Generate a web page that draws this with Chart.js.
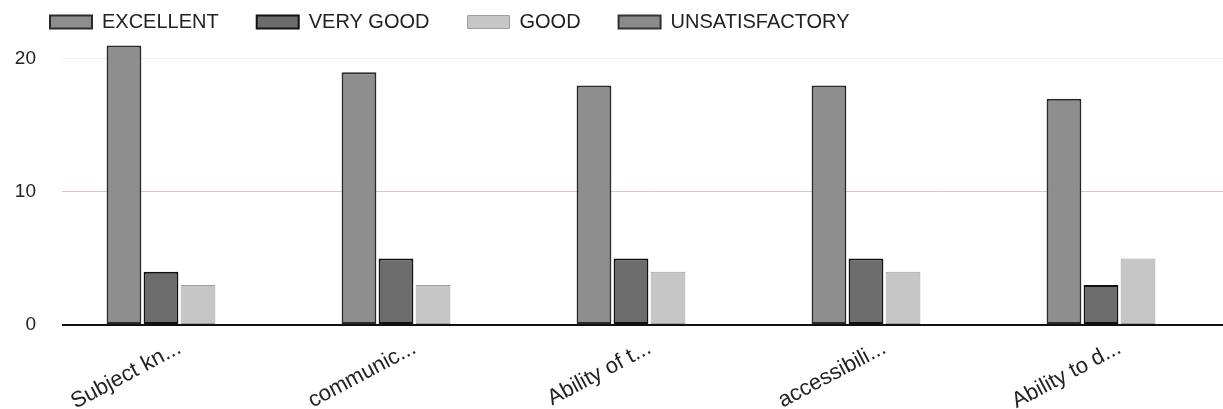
<!DOCTYPE html>
<html><head><meta charset="utf-8">
<script src="https://cdn.jsdelivr.net/npm/chart.js@4/dist/chart.umd.min.js"></script>
<style>html,body{margin:0;padding:0;background:#fff;overflow:hidden;} #wrap{width:1237px;height:409px;position:relative;}</style>
</head><body><div id="wrap"><canvas id="c"></canvas></div>
<script>
const categories = ["Subject kn...", "communic...", "Ability of t...", "accessibili...", "Ability to d..."];
const seriesNames = ["EXCELLENT", "VERY GOOD", "GOOD", "UNSATISFACTORY"];
const excellent = [21, 19, 18, 18, 17];
const veryGood = [4, 5, 5, 5, 3];
const good = [3, 3, 4, 4, 5];
const unsatisfactory = [0, 0, 0, 0, 0];
const yTicks = [0, 10, 20];

const styles = [
  {bg: '#8e8e8e', border: '#2a2a2a', w: 2},
  {bg: '#6c6c6c', border: '#111111', w: 2},
  {bg: '#c6c6c6', border: '#a0a0a0', w: 1},
  {bg: '#8a8a8a', border: '#333333', w: 2}
];
const seriesValues = [excellent, veryGood, good, unsatisfactory];

new Chart(document.getElementById('c'), {
  type: 'bar',
  data: {
    labels: categories,
    datasets: seriesNames.map((name, i) => ({
      label: name,
      data: seriesValues[i],
      backgroundColor: styles[i].bg,
      borderColor: styles[i].border,
      borderWidth: styles[i].w,
      borderSkipped: false,
      categoryPercentage: 0.63,
      barPercentage: 0.94
    }))
  },
  options: {
    responsive: true,
    maintainAspectRatio: false,
    animation: false,
    layout: {padding: {top: -26, left: 12, right: 0, bottom: 0}},
    plugins: {
      tooltip: {enabled: false},
      legend: {
        position: 'top',
        align: 'start',
        labels: {
          boxWidth: 42,
          boxHeight: 13,
          padding: 38,
          color: '#222',
          font: {family: 'Liberation Sans, Arial, sans-serif', size: 20}
        }
      }
    },
    scales: {
      x: {
        grid: {display: false},
        border: {display: false},
        ticks: {
          autoSkip: false,
          minRotation: 28,
          maxRotation: 28,
          padding: 2,
          color: '#222',
          font: {family: 'Liberation Sans, Arial, sans-serif', size: 22}
        },
        afterFit: (s) => { s.height = 84; }
      },
      y: {
        min: 0,
        max: 21.27,
        border: {display: false},
        grid: {
          drawTicks: false,
          color: (ctx) => ctx.tick.value === 0 ? '#111' : (ctx.tick.value === 10 ? 'rgba(190,150,150,0.55)' : 'rgba(0,0,0,0.05)'),
          lineWidth: (ctx) => ctx.tick.value === 0 ? 2 : 1
        },
        ticks: {
          padding: 26,
          color: '#222',
          font: {family: 'Liberation Sans, Arial, sans-serif', size: 19}
        },
        afterBuildTicks: (axis) => { axis.ticks = yTicks.map(v => ({value: v})); },
        afterFit: (s) => { s.width = 50; }
      }
    }
  }
});
</script>
</body></html>
